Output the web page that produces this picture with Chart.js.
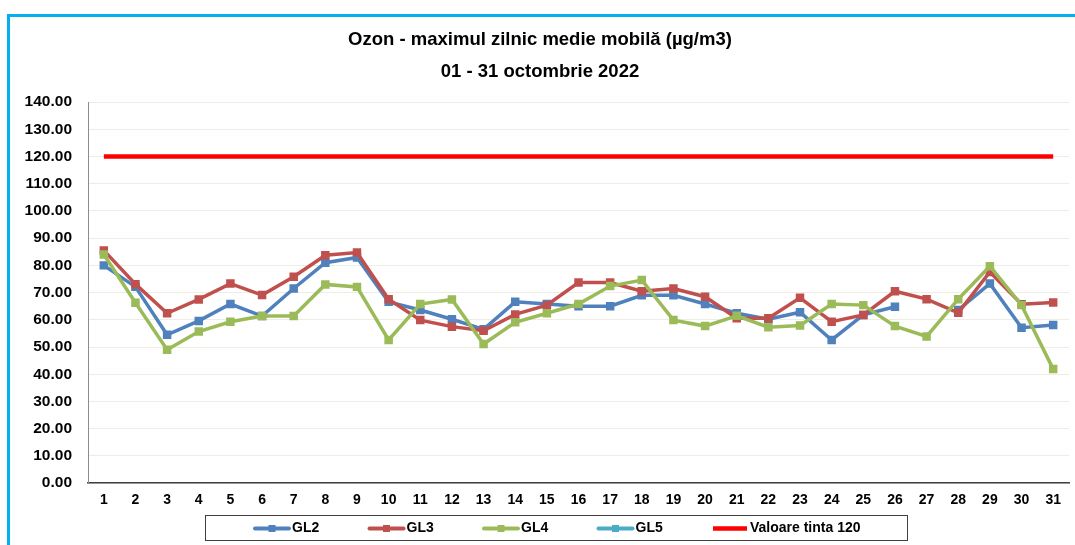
<!DOCTYPE html>
<html lang="ro">
<head>
    <meta charset="UTF-8">
    <title>Ozon - maximul zilnic medie mobilă</title>
    <script src="https://cdn.jsdelivr.net/npm/chart.js"></script>
    <style>
        body { margin: 0; background: #fff; }
        #wrap { position: relative; width: 1075px; height: 545px; overflow: hidden; }
        #frame { position: absolute; left: 7px; top: 14px; width: 2000px; height: 2000px;
                 border-left: 3px solid #00B0F0; border-top: 3px solid #00B0F0; }
        #box { position: absolute; left: 0; top: 0; width: 1075px; height: 545px; }
    </style>
</head>
<body>
<div id="wrap">
    <div id="frame"></div>
    <div id="box"><canvas id="ozonChart"></canvas></div>
</div>

<script>
    // zilele lunii (axa x)
    const days = ['1','2','3','4','5','6','7','8','9','10','11','12','13','14','15','16',
                  '17','18','19','20','21','22','23','24','25','26','27','28','29','30','31'];

    // valori (µg/m3)
    const gl2 = [80.0, 72.1, 54.5, 59.6, 65.8, 61.4, 71.5, 81.0, 82.9, 66.6, 63.6, 60.2, 56.5, 66.6, 65.8, 65.0,
                 65.0, 69.0, 69.0, 65.8, 62.4, 60.2, 62.8, 52.6, 61.8, 64.8, null, 63.6, 73.3, 57.1, 58.1];
    const gl3 = [85.5, 73.1, 62.4, 67.5, 73.3, 69.1, 75.8, 83.7, 84.7, 67.6, 59.9, 57.5, 56.0, 62.0, 65.4, 73.7,
                 73.7, 70.5, 71.5, 68.5, 60.6, 60.6, 68.1, 59.3, 61.8, 70.5, 67.6, 62.6, 77.6, 65.7, 66.4];
    const gl4 = [84.0, 66.3, 49.0, 55.7, 59.3, 61.4, 61.4, 73.0, 72.1, 52.6, 65.8, 67.5, 51.1, 59.1, 62.4, 65.8,
                 72.4, 74.6, 59.9, 57.7, 61.5, 57.3, 57.9, 65.8, 65.4, 57.7, 53.9, 67.6, 79.7, 65.4, 41.9];
    const gl5 = [null, null, null, null, null, null, null, null, null, null, null, null, null, null, null, null,
                 null, null, null, null, null, null, null, null, null, null, null, null, null, null, null];
    const tinta = [120, 120, 120, 120, 120, 120, 120, 120, 120, 120, 120, 120, 120, 120, 120, 120,
                   120, 120, 120, 120, 120, 120, 120, 120, 120, 120, 120, 120, 120, 120, 120];

    const FONT = "'Liberation Sans', Arial, sans-serif";

    function serie(label, data, color, order) {
        return {
            label: label, data: data, order: order,
            borderColor: color, backgroundColor: color,
            borderWidth: 3.5, pointStyle: 'rect', pointRadius: 6,
            pointBorderWidth: 0, spanGaps: false, tension: 0
        };
    }

    // legenda desenata manual, cu chenar ca in Excel
    const legendBox = {
        id: 'legendBox',
        afterDraw(chart) {
            const ctx = chart.ctx;
            ctx.save();
            ctx.strokeStyle = '#404040';
            ctx.lineWidth = 1;
            ctx.strokeRect(205.5, 515.5, 702, 25);
            ctx.font = 'bold 14px ' + FONT;
            ctx.textBaseline = 'middle';
            chart.data.datasets.forEach((ds, i) => {
                const x = 255 + i * 114.5, y = 528.5;
                ctx.strokeStyle = ds.borderColor;
                ctx.lineWidth = ds.pointRadius ? 4 : 4.5;
                ctx.lineCap = ds.pointRadius ? 'round' : 'butt';
                ctx.beginPath();
                ctx.moveTo(x, y);
                ctx.lineTo(x + 34, y);
                ctx.stroke();
                if (ds.pointRadius) {
                    ctx.fillStyle = ds.borderColor;
                    ctx.fillRect(x + 13.5, y - 3.5, 7, 7);
                }
                ctx.fillStyle = '#000';
                ctx.fillText(ds.label, x + 37, y);
            });
            ctx.restore();
        }
    };

    new Chart(document.getElementById('ozonChart'), {
        type: 'line',
        data: {
            labels: days,
            datasets: [
                serie('GL2', gl2, '#4F81BD', 3),
                serie('GL3', gl3, '#C0504D', 2),
                serie('GL4', gl4, '#9BBB59', 1),
                serie('GL5', gl5, '#4BACC6', 4),
                {
                    label: 'Valoare tinta 120', data: tinta, order: 5,
                    borderColor: '#FF0000', backgroundColor: '#FF0000',
                    borderWidth: 4.5, pointRadius: 0, tension: 0
                }
            ]
        },
        options: {
            responsive: true,
            maintainAspectRatio: false,
            animation: false,
            layout: { padding: { top: 15, left: 10, right: 5, bottom: 27 } },
            plugins: {
                legend: { display: false },
                tooltip: { enabled: false },
                title: {
                    display: true,
                    text: ['Ozon - maximul zilnic medie mobilă (µg/m3)', '01 - 31 octombrie 2022'],
                    color: '#000',
                    font: { family: FONT, size: 18.5, weight: 'bold', lineHeight: '32px' },
                    padding: { top: 9, bottom: 14 }
                }
            },
            scales: {
                x: {
                    offset: true,
                    grid: { display: false, drawTicks: false },
                    border: { display: true, color: '#404040', width: 1.5 },
                    ticks: { color: '#000', padding: 9, maxRotation: 0, autoSkip: false,
                             font: { family: FONT, size: 14, weight: 'bold' } }
                },
                y: {
                    min: 0, max: 140,
                    afterFit(scale) { scale.width = 78; },
                    grid: { color: '#EDEDE4', lineWidth: 1, drawTicks: false },
                    border: { display: true, color: '#8C8C8C', width: 1 },
                    ticks: { stepSize: 10, color: '#000', padding: 16,
                             font: { family: FONT, size: 15.5, weight: 'bold' },
                             callback: v => v.toFixed(2) }
                }
            }
        },
        plugins: [legendBox]
    });
</script>
</body>
</html>
